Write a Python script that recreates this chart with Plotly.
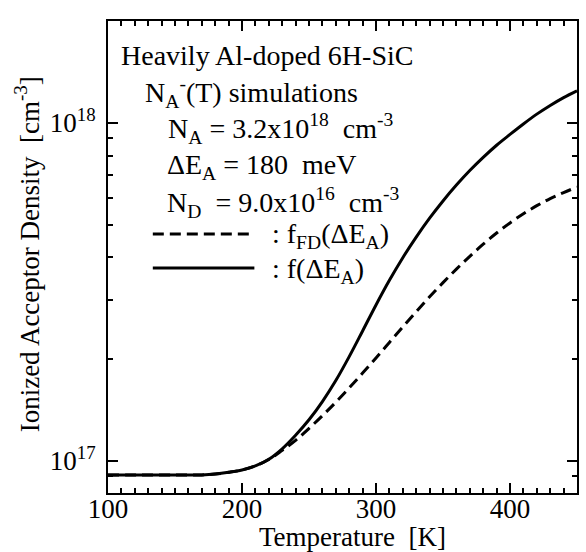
import plotly.graph_objects as go

temps = [100, 125, 150, 170, 180, 190, 200, 210, 220, 230, 240, 250, 260, 270, 280, 290,
         300, 310, 320, 330, 340, 350, 360, 370, 380, 390, 400, 410, 420, 430, 440, 450]

n_f = [9.06e16, 9.06e16, 9.06e16, 9.07e16, 9.12e16, 9.23e16, 9.38e16, 9.64e16, 1.009e17,
       1.084e17, 1.189e17, 1.321e17, 1.496e17, 1.726e17, 2.032e17, 2.421e17, 2.891e17,
       3.42e17, 3.99e17, 4.592e17, 5.224e17, 5.875e17, 6.546e17, 7.228e17, 7.907e17,
       8.59e17, 9.247e17, 9.931e17, 1.062e18, 1.127e18, 1.189e18, 1.245e18]

n_fd = [9.06e16, 9.06e16, 9.06e16, 9.07e16, 9.12e16, 9.23e16, 9.38e16, 9.64e16, 1.007e17,
        1.072e17, 1.148e17, 1.245e17, 1.358e17, 1.489e17, 1.641e17, 1.816e17, 2.014e17,
        2.239e17, 2.489e17, 2.761e17, 3.055e17, 3.365e17, 3.69e17, 4.027e17, 4.375e17,
        4.721e17, 5.058e17, 5.383e17, 5.689e17, 5.97e17, 6.223e17, 6.457e17]

x_ticks = [100, 200, 300, 400]
y_ticks = [1e17, 1e18]
y_tick_text = ["10<sup>17</sup>", "10<sup>18</sup>"]
y_minor = [9e16] + [k * 1e17 for k in range(2, 10)] + [2e18]

FONT = "Liberation Serif"
FS = 27
FA = 28

fig = go.Figure()
fig.add_trace(go.Scatter(x=temps, y=n_fd, mode="lines", line=dict(color="black", width=3, dash="11px,6px"),
                         line_shape="spline", showlegend=False, hoverinfo="skip"))
fig.add_trace(go.Scatter(x=temps, y=n_f, mode="lines", line=dict(color="black", width=3),
                         line_shape="spline", showlegend=False, hoverinfo="skip"))

W, H = 586, 552
L, R, T, B = 108, 7, 21, 59
pw, ph = W - L - R, H - T - B

def px(x):
    return (x - L) / pw

def py(y):
    return (H - B - y) / ph

lines = [
    (119, 55, "Heavily Al-doped 6H-SiC"),
    (143, 92, "N<sub>A</sub><sup>-</sup>(T) simulations"),
    (166, 129, "N<sub>A</sub> = 3.2x10<sup>18</sup>&nbsp;&nbsp;cm<sup>-3</sup>"),
    (165, 167, "ΔE<sub>A</sub> = 180&nbsp;&nbsp;meV"),
    (165, 202, "N<sub>D</sub>&nbsp;&nbsp;= 9.0x10<sup>16</sup>&nbsp;&nbsp;cm<sup>-3</sup>"),
    (271, 235, ": f<sub>FD</sub>(ΔE<sub>A</sub>)"),
    (271, 270, ": f(ΔE<sub>A</sub>)"),
]
annotations = []
for x, y, t in lines:
    annotations.append(dict(x=px(x), y=py(y), xref="paper", yref="paper", text=t, showarrow=False,
                            xanchor="left", yanchor="middle", font=dict(family=FONT, size=FA, color="black")))

annotations.append(dict(x=px(354), y=py(537), xref="paper", yref="paper", text="Temperature&nbsp;&nbsp;[K]",
                        showarrow=False, xanchor="center", yanchor="middle",
                        font=dict(family=FONT, size=FS, color="black")))
annotations.append(dict(x=px(27), y=py(254), xref="paper", yref="paper",
                        text="Ionized Acceptor Density&nbsp;&nbsp;[cm<sup>-3</sup>]",
                        showarrow=False, xanchor="center", yanchor="middle", textangle=-90,
                        font=dict(family=FONT, size=FS, color="black")))

shapes = [
    dict(type="line", xref="paper", yref="paper", x0=px(153), x1=px(255), y0=py(234), y1=py(234),
         line=dict(color="black", width=3, dash="11px,6px")),
    dict(type="line", xref="paper", yref="paper", x0=px(153), x1=px(255), y0=py(268), y1=py(268),
         line=dict(color="black", width=3)),
]

fig.update_layout(
    width=W, height=H,
    margin=dict(l=L, r=R, t=T, b=B, pad=0),
    paper_bgcolor="white", plot_bgcolor="white",
    font=dict(family=FONT, size=FS, color="black"),
    annotations=annotations, shapes=shapes,
    xaxis=dict(range=[100, 450], tickvals=x_ticks, ticks="inside", ticklen=10, tickwidth=1.5,
               tickcolor="black", showline=True, linecolor="black", linewidth=2, mirror="ticks",
               showgrid=False, zeroline=False, ticklabelstandoff=-9,
               minor=dict(dtick=10, ticks="inside", ticklen=5, tickwidth=1.5, tickcolor="black", showgrid=False),
               tickfont=dict(family=FONT, size=FS, color="black")),
    yaxis=dict(type="log", range=[16.904, 18.302], tickvals=y_ticks, ticktext=y_tick_text,
               ticks="inside", ticklen=10, tickwidth=1.5, tickcolor="black", showline=True,
               linecolor="black", linewidth=2, mirror="ticks", showgrid=False, zeroline=False,
               ticklabelstandoff=5,
               minor=dict(tickvals=y_minor, ticks="inside", ticklen=5, tickwidth=1.5, tickcolor="black", showgrid=False),
               tickfont=dict(family=FONT, size=FS, color="black")),
)

fig.write_html("out.html", config={"displayModeBar": False},
               post_script="document.body.style.margin='0';document.body.style.overflow='hidden';")
